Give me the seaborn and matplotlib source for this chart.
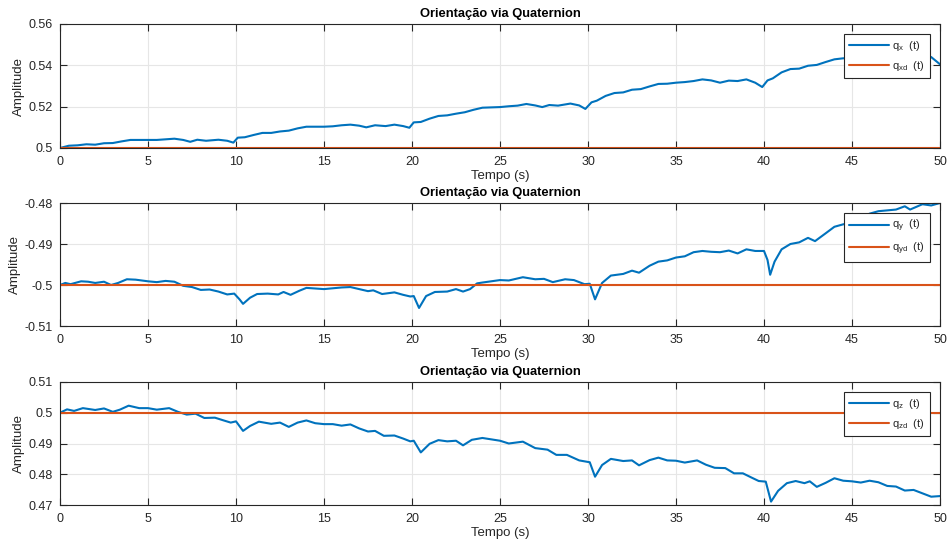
import numpy as np
import pandas as pd
import matplotlib
matplotlib.use("Agg")
import matplotlib.pyplot as plt
import seaborn as sns

# ---------------- data ----------------
tx = [0, 0.5, 1, 1.5, 2, 2.5, 3, 3.5, 4, 5, 5.5, 6, 6.5, 7, 7.4, 7.8, 8.3, 9, 9.5, 9.85,
      10.1, 10.5, 11, 11.5, 12, 12.5, 13, 13.5, 14, 15, 15.5, 16, 16.5, 17, 17.4, 17.9,
      18.5, 19, 19.5, 19.85, 20.1, 20.5, 21, 21.5, 22, 22.5, 23, 23.5, 24, 25, 25.5, 26,
      26.5, 27, 27.4, 27.8, 28.3, 29, 29.5, 29.85, 30.2, 30.5, 31, 31.5, 32, 32.5, 33,
      33.5, 34, 34.5, 35, 35.5, 36, 36.5, 37, 37.5, 38, 38.5, 39, 39.5, 39.9, 40.2, 40.5,
      41, 41.5, 42, 42.5, 43, 43.5, 44, 44.5, 45, 46, 47, 48, 49, 49.5, 50]
qx = [0.5000, 0.5011, 0.5013, 0.5018, 0.5016, 0.5023, 0.5024, 0.5032, 0.5039, 0.5039,
      0.5039, 0.5042, 0.5045, 0.5039, 0.5030, 0.5040, 0.5035, 0.5040, 0.5035, 0.5026,
      0.5050, 0.5052, 0.5063, 0.5073, 0.5073, 0.5080, 0.5084, 0.5095, 0.5103, 0.5103,
      0.5105, 0.5110, 0.5113, 0.5108, 0.5100, 0.5110, 0.5106, 0.5113, 0.5106, 0.5098,
      0.5124, 0.5126, 0.5142, 0.5155, 0.5158, 0.5166, 0.5173, 0.5185, 0.5195, 0.5198,
      0.5202, 0.5205, 0.5213, 0.5206, 0.5198, 0.5208, 0.5205, 0.5215, 0.5206, 0.5189,
      0.5221, 0.5229, 0.5252, 0.5266, 0.5269, 0.5282, 0.5285, 0.5298, 0.5310, 0.5311,
      0.5316, 0.5319, 0.5324, 0.5332, 0.5327, 0.5316, 0.5326, 0.5324, 0.5332, 0.5316,
      0.5295, 0.5327, 0.5337, 0.5366, 0.5382, 0.5384, 0.5398, 0.5402, 0.5416, 0.5429,
      0.5434, 0.5434, 0.5440, 0.5446, 0.5450, 0.5452, 0.5440, 0.5405]

ty = [0, 0.3, 0.6, 1.2, 1.6, 2, 2.5, 2.9, 3.3, 3.8, 4.3, 5, 5.5, 6, 6.5, 7, 7.5, 8, 8.5,
      9, 9.5, 9.9, 10.2, 10.4, 10.8, 11.2, 11.8, 12.4, 12.7, 13.1, 13.6, 14, 15, 15.5, 16,
      16.5, 17, 17.5, 17.8, 18.3, 19, 19.5, 19.9, 20.1, 20.4, 20.8, 21.3, 22, 22.5, 22.9,
      23.3, 23.7, 24, 25, 25.5, 26.3, 27, 27.5, 28, 28.7, 29.2, 29.8, 30.1, 30.4, 30.8,
      31.3, 32, 32.5, 32.9, 33.5, 34, 34.5, 35, 35.5, 36, 36.5, 37, 37.5, 38, 38.5, 39,
      39.5, 40, 40.2, 40.35, 40.6, 41, 41.5, 42, 42.5, 42.9, 43.5, 44, 44.5, 45, 45.5, 46,
      46.5, 47, 47.5, 48, 48.3, 49, 49.5, 50]
qy = [-0.5000, -0.4995, -0.4998, -0.4991, -0.4992, -0.4995, -0.4992, -0.5000, -0.4995,
      -0.4986, -0.4987, -0.4991, -0.4993, -0.4990, -0.4992, -0.5002, -0.5005, -0.5012,
      -0.5011, -0.5016, -0.5023, -0.5021, -0.5035, -0.5046, -0.5031, -0.5022, -0.5021,
      -0.5023, -0.5017, -0.5024, -0.5014, -0.5007, -0.5010, -0.5008, -0.5006, -0.5005,
      -0.5010, -0.5015, -0.5013, -0.5022, -0.5018, -0.5024, -0.5028, -0.5027, -0.5056,
      -0.5027, -0.5017, -0.5016, -0.5010, -0.5016, -0.5010, -0.4996, -0.4994, -0.4988,
      -0.4989, -0.4981, -0.4986, -0.4985, -0.4993, -0.4986, -0.4988, -0.4998, -0.4997,
      -0.5035, -0.4995, -0.4977, -0.4973, -0.4965, -0.4970, -0.4953, -0.4943, -0.4940,
      -0.4933, -0.4930, -0.4920, -0.4917, -0.4919, -0.4920, -0.4916, -0.4923, -0.4913,
      -0.4917, -0.4917, -0.4939, -0.4975, -0.4943, -0.4913, -0.4900, -0.4896, -0.4885,
      -0.4893, -0.4874, -0.4858, -0.4852, -0.4848, -0.4838, -0.4826, -0.4820, -0.4818,
      -0.4816, -0.4808, -0.4816, -0.4803, -0.4806, -0.4800]

tz = [0, 0.4, 0.8, 1.3, 2, 2.5, 3, 3.4, 3.9, 4.5, 5, 5.5, 6.2, 6.7, 7.2, 7.7, 8.2, 8.8,
      9.3, 9.7, 10, 10.4, 10.8, 11.3, 12, 12.5, 13, 13.5, 14, 14.5, 15, 15.5, 16, 16.5, 17,
      17.5, 17.9, 18.4, 19, 19.5, 19.9, 20.1, 20.5, 21, 21.5, 22, 22.5, 22.9, 23.4, 24, 25,
      25.5, 26.3, 27, 27.7, 28.2, 28.8, 29.5, 30.1, 30.4, 30.8, 31.3, 32, 32.5, 32.9, 33.5,
      34, 34.5, 35, 35.5, 36.2, 36.7, 37.2, 37.8, 38.3, 38.8, 39.3, 39.7, 40.1, 40.4, 40.8,
      41.3, 41.8, 42.3, 42.6, 43, 43.5, 44, 44.5, 45, 45.5, 46, 46.5, 47, 47.5, 48, 48.5,
      49, 49.5, 50]
qz = [0.5000, 0.5011, 0.5006, 0.5015, 0.5009, 0.5014, 0.5003, 0.5010, 0.5023, 0.5015,
      0.5015, 0.5010, 0.5015, 0.5003, 0.4994, 0.4997, 0.4983, 0.4984, 0.4975, 0.4968,
      0.4972, 0.4941, 0.4957, 0.4971, 0.4964, 0.4968, 0.4954, 0.4968, 0.4975, 0.4966,
      0.4963, 0.4963, 0.4958, 0.4962, 0.4949, 0.4939, 0.4941, 0.4925, 0.4926, 0.4916,
      0.4907, 0.4909, 0.4871, 0.4899, 0.4911, 0.4907, 0.4909, 0.4894, 0.4912, 0.4918,
      0.4909, 0.4900, 0.4906, 0.4885, 0.4880, 0.4863, 0.4863, 0.4845, 0.4839, 0.4792,
      0.4830, 0.4850, 0.4843, 0.4845, 0.4829, 0.4846, 0.4854, 0.4845, 0.4844, 0.4838,
      0.4845, 0.4831, 0.4821, 0.4820, 0.4803, 0.4803, 0.4789, 0.4778, 0.4776, 0.4711,
      0.4746, 0.4771, 0.4778, 0.4771, 0.4777, 0.4759, 0.4772, 0.4787, 0.4779, 0.4777,
      0.4773, 0.4779, 0.4774, 0.4762, 0.4760, 0.4747, 0.4749, 0.4738, 0.4727, 0.4729]

t_ref = [0, 50]
qxd = [0.5, 0.5]
qyd = [-0.5, -0.5]
qzd = [0.5, 0.5]

labels = [(r"q$_{\mathregular{x}}$  (t)", r"q$_{\mathregular{xd}}$  (t)"),
          (r"q$_{\mathregular{y}}$  (t)", r"q$_{\mathregular{yd}}$  (t)"),
          (r"q$_{\mathregular{z}}$  (t)", r"q$_{\mathregular{zd}}$  (t)")]
yticks = [[0.5, 0.52, 0.54, 0.56], [-0.51, -0.5, -0.49, -0.48], [0.47, 0.48, 0.49, 0.5, 0.51]]
yticklabels = [["0.5", "0.52", "0.54", "0.56"], ["-0.51", "-0.5", "-0.49", "-0.48"],
               ["0.47", "0.48", "0.49", "0.5", "0.51"]]
xticks = [0, 5, 10, 15, 20, 25, 30, 35, 40, 45, 50]
title = "Orientação via Quaternion"
xlabel = "Tempo (s)"
ylabel = "Amplitude"

# ---------------- style ----------------
sns.set_style("ticks")
plt.rcParams["font.family"] = ["Liberation Sans", "DejaVu Sans"]
plt.rcParams["mathtext.fontset"] = "custom"
plt.rcParams["mathtext.rm"] = "Liberation Sans"
plt.rcParams["mathtext.it"] = "Liberation Sans"

blue = "#0072BD"
orange = "#D95319"
dark = "#262626"

fig = plt.figure(figsize=(9.47, 5.47), dpi=100)
W, H = 947, 547
boxes = [(24, 148), (203, 326), (382, 505)]

series = [(tx, qx, qxd), (ty, qy, qyd), (tz, qz, qzd)]

for i, ((top, bot), (tt, q, qd)) in enumerate(zip(boxes, series)):
    ax = fig.add_axes([60 / W, 1 - bot / H, 880 / W, (bot - top) / H])
    df = pd.DataFrame({"t": tt, "v": q})
    dfd = pd.DataFrame({"t": t_ref, "v": qd})
    sns.lineplot(data=df, x="t", y="v", ax=ax, color=blue, lw=1.5, label=labels[i][0])
    sns.lineplot(data=dfd, x="t", y="v", ax=ax, color=orange, lw=1.5, label=labels[i][1])
    ax.set_xlim(0, 50)
    ax.set_ylim(yticks[i][0], yticks[i][-1])
    ax.set_xticks(xticks)
    ax.set_xticklabels([str(x) for x in xticks])
    ax.set_yticks(yticks[i])
    ax.set_yticklabels(yticklabels[i])
    ax.grid(True, color="#e6e6e6", lw=0.8)
    ax.set_axisbelow(True)
    ax.tick_params(direction="in", length=5, width=0.8, top=True, right=True,
                   labelsize=9, colors=dark)
    ax.tick_params(axis="x", pad=6)
    ax.tick_params(axis="y", pad=5)
    for s in ax.spines.values():
        s.set_color(dark)
        s.set_linewidth(0.8)
    ax.set_title(title, fontsize=9.3, fontweight="bold", pad=5, color="black")
    ax.set_xlabel(xlabel, fontsize=9.5, color=dark, labelpad=1)
    ax.set_ylabel(ylabel, fontsize=9.5, color=dark, labelpad=3)
    leg = ax.legend(loc="upper right", fontsize=8, frameon=True, fancybox=False,
                    handlelength=3.6, handletextpad=0.25, borderaxespad=0.9,
                    borderpad=0.45, labelspacing=0.55)
    leg.get_frame().set_edgecolor(dark)
    leg.get_frame().set_linewidth(0.8)
    leg.get_frame().set_alpha(1)

fig.savefig("out.png", dpi=100)
